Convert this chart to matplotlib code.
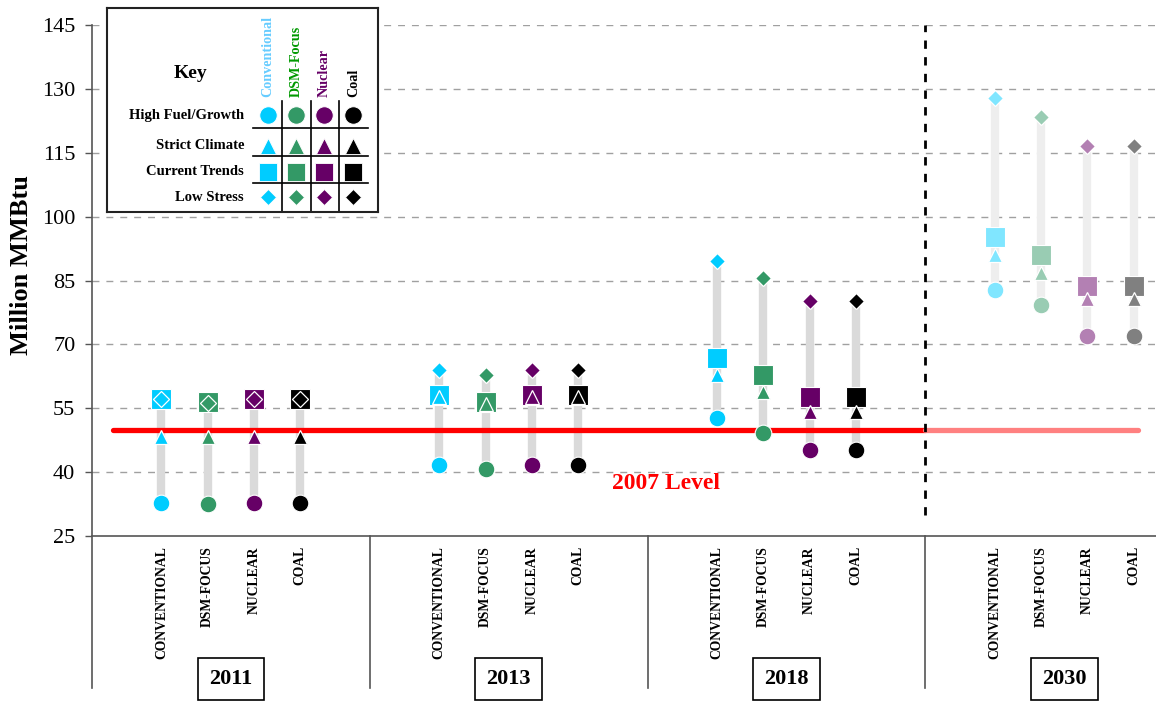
import matplotlib
matplotlib.use("Agg")
import matplotlib.pyplot as plt
from matplotlib.lines import Line2D

plt.rcParams['font.family'] = ['Liberation Serif', 'DejaVu Serif']

# ---------------- data ----------------
years = ['2011', '2013', '2018', '2030']
portfolios = ['CONVENTIONAL', 'DSM-FOCUS', 'NUCLEAR', 'COAL']
key_portfolios = ['Conventional', 'DSM-Focus', 'Nuclear', 'Coal']
scenarios = ['High Fuel/Growth', 'Strict Climate', 'Current Trends', 'Low Stress']

# values per year, order: conventional, dsm-focus, nuclear, coal
high_fuel = {'2011': [32.8, 32.5, 32.8, 32.8], '2013': [41.7, 40.7, 41.7, 41.7],
             '2018': [52.6, 49.3, 45.2, 45.2], '2030': [82.8, 79.3, 72.0, 72.0]}
strict_climate = {'2011': [48.3, 48.3, 48.3, 48.3], '2013': [57.6, 56.0, 57.6, 57.6],
                  '2018': [62.8, 58.9, 54.2, 54.2], '2030': [91.0, 86.7, 80.6, 80.6]}
current_trends = {'2011': [57.1, 56.5, 57.1, 57.1], '2013': [58.0, 56.5, 58.0, 58.0],
                  '2018': [66.7, 62.8, 57.7, 57.7], '2030': [95.3, 91.0, 83.7, 83.7]}
low_stress = {'2011': [57.1, 56.3, 57.1, 57.1], '2013': [64.0, 62.8, 64.0, 64.0],
              '2018': [89.6, 85.5, 80.2, 80.2], '2030': [127.9, 123.3, 116.6, 116.6]}
level_2007 = 50
yticks = [25, 40, 55, 70, 85, 100, 115, 130, 145]

colors = ['#00CCFF', '#339966', '#660066', '#000000']
light_colors = ['#80E6FF', '#99CCB3', '#B380B3', '#808080']
header_colors = ['#66CCFF', '#009900', '#660066', '#000000']

# ---------------- figure ----------------
W, H = 1156, 705
fig = plt.figure(figsize=(W / 100, H / 100), dpi=100)
ax_l, ax_r, ax_t, ax_b = 92, 1156, 25, 536
ax = fig.add_axes([ax_l / W, 1 - ax_b / H, (ax_r - ax_l) / W, (ax_b - ax_t) / H])
ax.set_xlim(0, 22.98)
ax.set_ylim(25, 145)

for s in ['top', 'right', 'left']:
    ax.spines[s].set_visible(False)
ax.spines['bottom'].set_color('#555555')
ax.spines['bottom'].set_linewidth(1.2)
ax.set_xticks([])
ax.set_yticks(yticks)
ax.set_yticklabels([str(v) for v in yticks], fontsize=16)
ax.tick_params(axis='y', length=5, width=1, color='#555555', pad=7)
for v in yticks[1:]:
    ax.axhline(v, color='#A0A0A0', lw=1, dashes=(5, 5), zorder=0)

fig.text(22 / W, 1 - 265 / H, 'Million MMBtu', rotation=90, fontsize=19,
         fontweight='bold', ha='center', va='center')

# extended left axis & group separators below the plot
ext = (ax_b - 688) / (ax_b - ax_t)
trans = ax.get_xaxis_transform()
ax.add_line(Line2D([0, 0], [ext, 1], transform=trans, color='#555555', lw=1.2, clip_on=False))
for g in range(1, 4):
    ax.add_line(Line2D([6 * g, 6 * g], [ext, 0], transform=trans, color='#555555',
                       lw=1.2, clip_on=False))

# red 2007 line
ax.plot([0.45, 18], [level_2007, level_2007], color='#FF0000', lw=3.8,
        solid_capstyle='round', zorder=2)
ax.plot([18, 22.6], [level_2007, level_2007], color='#FF8080', lw=3.8,
        solid_capstyle='round', zorder=2)
ax.text(12.4, 37.4, '2007 Level', color='#FF0000', fontsize=17, fontweight='bold',
        ha='center', va='center')

# vertical dashed divider
ax.plot([18, 18], [30, 145], color='black', lw=2, dashes=(3, 3), zorder=2, clip_on=False)

# points
for g, yr in enumerate(years):
    faded = (yr == '2030')
    for i in range(4):
        x = 1.5 + 6 * g + i
        c = light_colors[i] if faded else colors[i]
        vals = [high_fuel[yr][i], strict_climate[yr][i], current_trends[yr][i], low_stress[yr][i]]
        ax.plot([x, x], [min(vals), max(vals)], color='#EEEEEE' if faded else '#DADADA',
                lw=6, solid_capstyle='butt', zorder=1)
        ax.plot(x, high_fuel[yr][i], 'o', ms=12, mfc=c, mec='white', mew=0.8, zorder=3)
        ax.plot(x, current_trends[yr][i], 's', ms=14.4, mfc=c, mec='white', mew=0.8, zorder=4)
        ax.plot(x, strict_climate[yr][i], '^', ms=10.5, mfc=c, mec='white', mew=0.9, zorder=5)
        ax.plot(x, low_stress[yr][i], 'D', ms=8, mfc=c, mec='white', mew=0.9, zorder=6)
        # category label
        ax.text(x, -0.02, portfolios[i], transform=trans, rotation=90, ha='center',
                va='top', fontsize=9.8, fontweight='bold')
    ax.text(1.5 + 6 * g + 1.5, (ax_b - 679) / (ax_b - ax_t), yr, transform=trans,
            ha='center', va='center', fontsize=16, fontweight='bold',
            bbox=dict(boxstyle='square,pad=0.5', fc='white', ec='black', lw=1.2))

# ---------------- key (pixel coordinates) ----------------
kl, kr, kt, kb = 107, 378, 8, 212
kax = fig.add_axes([kl / W, 1 - kb / H, (kr - kl) / W, (kb - kt) / H])
kax.set_xlim(kl, kr)
kax.set_ylim(kb, kt)
kax.set_xticks([])
kax.set_yticks([])
for s in kax.spines.values():
    s.set_linewidth(1.5)
    s.set_color('#222222')
kax.set_zorder(10)

col_x = [267.7, 296.0, 324.3, 353.3]
row_y = [115.0, 145.7, 171.7, 197.3]
kax.text(190, 74, 'Key', fontsize=14, fontweight='bold', ha='center', va='center')
for j, name in enumerate(key_portfolios):
    kax.text(col_x[j], 97, name, rotation=90, ha='center', va='bottom', fontsize=10.2,
             fontweight='bold', color=header_colors[j])
for r, name in enumerate(scenarios):
    kax.text(244, row_y[r], name, ha='right', va='center', fontsize=10.5, fontweight='bold')
for xv in [281.7, 310.7, 339.3]:
    kax.plot([xv, xv], [101, 211], color='black', lw=1.2)
for yv in [128.3, 155.7, 182.7]:
    kax.plot([252.7, 368.3], [yv, yv], color='black', lw=1.2)
marks = [('o', 12.5), ('^', 11.5), ('s', 12.5), ('D', 8.5)]
for r, (m, ms) in enumerate(marks):
    for j in range(4):
        kax.plot(col_x[j], row_y[r], m, ms=ms, mfc=colors[j], mec='white', mew=0.6)

fig.savefig('out.png', dpi=100)
